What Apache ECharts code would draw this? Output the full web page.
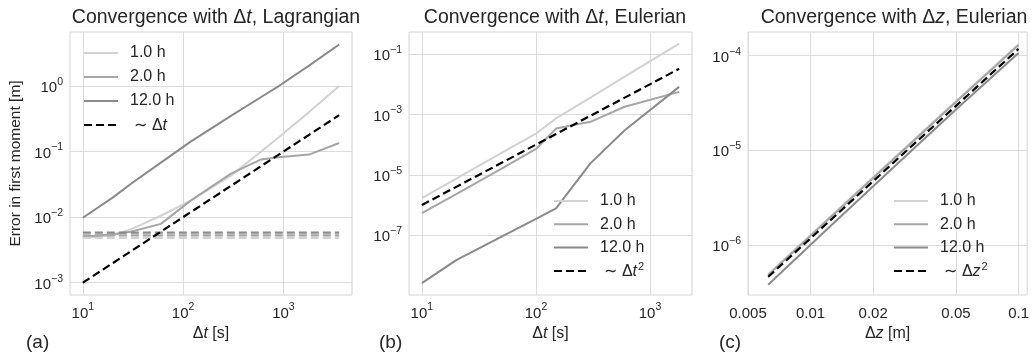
<!DOCTYPE html>
<html>
<head>
<meta charset="utf-8">
<script src="https://cdn.jsdelivr.net/npm/echarts@6/dist/echarts.min.js"></script>
<style>
  html, body { margin: 0; padding: 0; background: #fff; }
  #main { width: 1032px; height: 353px; }
</style>
</head>
<body>
<div id="main"></div>
<script>
// (a) Lagrangian, error vs time step
var dtLag = [10, 20, 30, 60, 120, 300, 600, 900, 1800, 3600];
var lag1h = [0.0048, 0.0053, 0.0065, 0.0105, 0.018, 0.043, 0.1, 0.165, 0.4, 1.0];
var lag2h = [0.005, 0.0055, 0.006, 0.0079, 0.018, 0.046, 0.076, 0.082, 0.09, 0.135];
var lag12h = [0.0098, 0.02, 0.032, 0.068, 0.143, 0.35, 0.68, 1.0, 2.05, 4.3];
var lagRef = [0.001, 0.002, 0.003, 0.006, 0.012, 0.03, 0.06, 0.09, 0.18, 0.36];
var lagFloorX = [10, 3600];
var lagFloor1h = [0.00484, 0.00484];
var lagFloor2h = [0.00526, 0.00526];
var lagFloor12h = [0.0058, 0.0058];

// (b) Eulerian, error vs time step
var dtEul = [10, 20, 50, 100, 150, 300, 600, 1800];
var eul1h = [1.7e-6, 7.5e-6, 5.3e-5, 2.3e-4, 7.4e-4, 3.6e-3, 0.018, 0.22];
var eul2h = [5.4e-7, 2.3e-6, 1.6e-5, 7.2e-5, 3.4e-4, 5.7e-4, 1.8e-3, 5.6e-3];
var eul12h = [2.6e-9, 1.5e-8, 9.0e-8, 3.5e-7, 7.8e-7, 2.4e-5, 3.0e-4, 8.2e-3];
var eulRef = [1e-6, 4e-6, 2.5e-5, 1e-4, 2.25e-4, 9e-4, 3.6e-3, 3.24e-2];

// (c) Eulerian, error vs grid spacing
var dz = [0.00625, 0.0125, 0.025, 0.05, 0.1];
var dz1h = [4.9e-7, 2.0e-6, 8.2e-6, 3.3e-5, 1.32e-4];
var dz2h = [4.8e-7, 1.97e-6, 8.0e-6, 3.25e-5, 1.3e-4];
var dz12h = [3.8e-7, 1.6e-6, 6.6e-6, 2.7e-5, 1.07e-4];
var dzRef = [4.6e-7, 1.84e-6, 7.4e-6, 2.95e-5, 1.18e-4];

// tick positions
var ticksA_x = [10, 100, 1000];
var ticksA_y = [0.001, 0.01, 0.1, 1];
var ticksB_x = [10, 100, 1000];
var ticksB_y = [1e-7, 1e-5, 1e-3, 1e-1];
var ticksC_x = [0.005, 0.01, 0.02, 0.05, 0.1];
var ticksC_y = [1e-6, 1e-5, 1e-4];

var names = ['1.0 h', '2.0 h', '12.0 h'];
var colors = ['#d2d2d2', '#a6a6a6', '#8a8a8a'];
var txt = '#262626';
var font = 'Liberation Sans, Arial, sans-serif';

var supRich = {
  b: { fontSize: 15, fontFamily: font, color: txt, lineHeight: 19, verticalAlign: 'bottom' },
  s: { fontSize: 10.5, fontFamily: font, color: txt, verticalAlign: 'top' }
};
function powLabel(v) {
  var e = Math.round(Math.log10(v));
  return '{b|10}{s|' + String(e).replace('-', '\u2212') + '}';
}
var mathRich = {
  n: { fontSize: 16, fontFamily: font, color: txt },
  i: { fontSize: 16, fontFamily: font, color: txt, fontStyle: 'italic' }
};
var legRich = {
  n: { fontSize: 16, fontFamily: font, color: txt, lineHeight: 18, verticalAlign: 'bottom' },
  i: { fontSize: 16, fontFamily: font, color: txt, fontStyle: 'italic', lineHeight: 18, verticalAlign: 'bottom' },
  s: { fontSize: 11, fontFamily: font, color: txt, lineHeight: 10, verticalAlign: 'top', padding: [0, 0, 0, 1] }
};

function pairs(xs, ys) {
  return xs.map(function (x, i) { return [x, ys[i]]; });
}
function line(name, xs, ys, color, k, dashed) {
  return {
    name: name, type: 'line', xAxisIndex: k, yAxisIndex: k,
    data: pairs(xs, ys), symbol: 'none', silent: true,
    lineStyle: { color: color, width: dashed ? 2.2 : 2, type: dashed ? [8, 4] : 'solid' },
    itemStyle: { color: color },
    emphasis: { disabled: true }
  };
}

function xAx(k, min, max, ticks, fmt, nameRich) {
  return {
    gridIndex: k, type: 'log', logBase: 10, min: min, max: max,
    axisLine: { show: false },
    axisTick: { show: false, customValues: ticks },
    axisLabel: { customValues: ticks, formatter: fmt, margin: 7, color: txt, fontSize: 15, fontFamily: font, rich: supRich },
    splitLine: { show: true, lineStyle: { color: '#dcdcdc', width: 1 } },
    name: nameRich, nameLocation: 'middle', nameGap: 27,
    nameTextStyle: { rich: mathRich }
  };
}
function yAx(k, min, max, ticks) {
  return {
    gridIndex: k, type: 'log', logBase: 10, min: min, max: max,
    axisLine: { show: false },
    axisTick: { show: false, customValues: ticks },
    axisLabel: { customValues: ticks, formatter: powLabel, margin: 7, color: txt, fontSize: 15, fontFamily: font, rich: supRich },
    splitLine: { show: true, lineStyle: { color: '#dcdcdc', width: 1 } }
  };
}

function legendFmt(name) {
  if (name.indexOf('\u0394') < 0) return name;
  var v = name.indexOf('z') >= 0 ? 'z' : 't';
  var sq = name.indexOf('2') >= 0 ? '{s|2}' : '';
  return '{n| \u223C \u0394}{i|' + v + '}' + sq;
}
function legend(left, top, gap, refName) {
  return {
    data: names.concat([refName]), orient: 'vertical', left: left, top: top, padding: 0,
    itemWidth: 34, itemHeight: 14, itemGap: gap, formatter: legendFmt,
    itemStyle: { opacity: 0 },
    textStyle: { fontSize: 16, fontFamily: font, color: txt, lineHeight: 18, padding: [0, 0, 0, 7], rich: legRich },
    selectedMode: false
  };
}

var gridBox = { show: true, borderColor: '#d4d4d4', borderWidth: 1, containLabel: false };
var titleStyle = {
  fontWeight: 'normal',
  rich: {
    n: { fontSize: 19.5, fontFamily: font, color: txt, fontWeight: 'normal' },
    i: { fontSize: 19.5, fontFamily: font, color: txt, fontWeight: 'normal', fontStyle: 'italic' }
  }
};
var tagStyle = { fontSize: 19, fontWeight: 'normal', color: txt, fontFamily: font };

var refA = '\u223C \u0394t', refB = '\u223C \u0394t2', refC = '\u223C \u0394z2';

var series = [
  line(names[0], dtLag, lag1h, colors[0], 0),
  line(names[1], dtLag, lag2h, colors[1], 0),
  line(names[2], dtLag, lag12h, colors[2], 0),
  line('floor 1.0 h', lagFloorX, lagFloor1h, colors[0], 0, true),
  line('floor 2.0 h', lagFloorX, lagFloor2h, colors[1], 0, true),
  line('floor 12.0 h', lagFloorX, lagFloor12h, colors[2], 0, true),
  line(refA, dtLag, lagRef, '#000', 0, true),
  line(names[0], dtEul, eul1h, colors[0], 1),
  line(names[1], dtEul, eul2h, colors[1], 1),
  line(names[2], dtEul, eul12h, colors[2], 1),
  line(refB, dtEul, eulRef, '#000', 1, true),
  line(names[0], dz, dz1h, colors[0], 2),
  line(names[1], dz, dz2h, colors[1], 2),
  line(names[2], dz, dz12h, colors[2], 2),
  line(refC, dz, dzRef, '#000', 2, true)
];

var chart = echarts.init(document.getElementById('main'));
chart.setOption({
  animation: false,
  backgroundColor: '#fff',
  textStyle: { fontFamily: font },
  title: [
    { text: '{n|Convergence with \u0394}{i|t}{n|, Lagrangian}', left: 211, top: 3, textAlign: 'center', textStyle: titleStyle },
    { text: '{n|Convergence with \u0394}{i|t}{n|, Eulerian}', left: 550, top: 3, textAlign: 'center', textStyle: titleStyle },
    { text: '{n|Convergence with \u0394}{i|z}{n|, Eulerian}', left: 889, top: 3, textAlign: 'center', textStyle: titleStyle },
    { text: '(a)', left: 21, top: 328, textStyle: tagStyle },
    { text: '(b)', left: 374, top: 328, textStyle: tagStyle },
    { text: '(c)', left: 714, top: 328, textStyle: tagStyle }
  ],
  grid: [
    Object.assign({ left: 70, top: 32, width: 282, height: 263 }, gridBox),
    Object.assign({ left: 409, top: 32, width: 283, height: 263 }, gridBox),
    Object.assign({ left: 748, top: 32, width: 280, height: 263 }, gridBox)
  ],
  legend: [
    legend(83, 44, 6, refA),
    legend(553, 192, 5.3, refB),
    legend(893, 192, 5.3, refC)
  ],
  xAxis: [
    xAx(0, 7.45, 4831, ticksA_x, powLabel, '{n|\u0394}{i|t}{n| [s]}'),
    xAx(1, 7.71, 2333, ticksB_x, powLabel, '{n|\u0394}{i|t}{n| [s]}'),
    xAx(2, 0.005, 0.11, ticksC_x, function (v) { return '{b|' + v + '}'; }, '{n|\u0394}{i|z}{n| [m]}')
  ],
  yAxis: [
    Object.assign(yAx(0, 6.49e-4, 6.67, ticksA_y), {
      name: 'Error in first moment [m]', nameLocation: 'middle', nameGap: 46,
      nameTextStyle: { fontSize: 15.5, color: txt, fontFamily: font }
    }),
    yAx(1, 1.05e-9, 0.537, ticksB_y),
    yAx(2, 2.96e-7, 1.78e-4, ticksC_y)
  ],
  series: series
});
</script>
</body>
</html>
